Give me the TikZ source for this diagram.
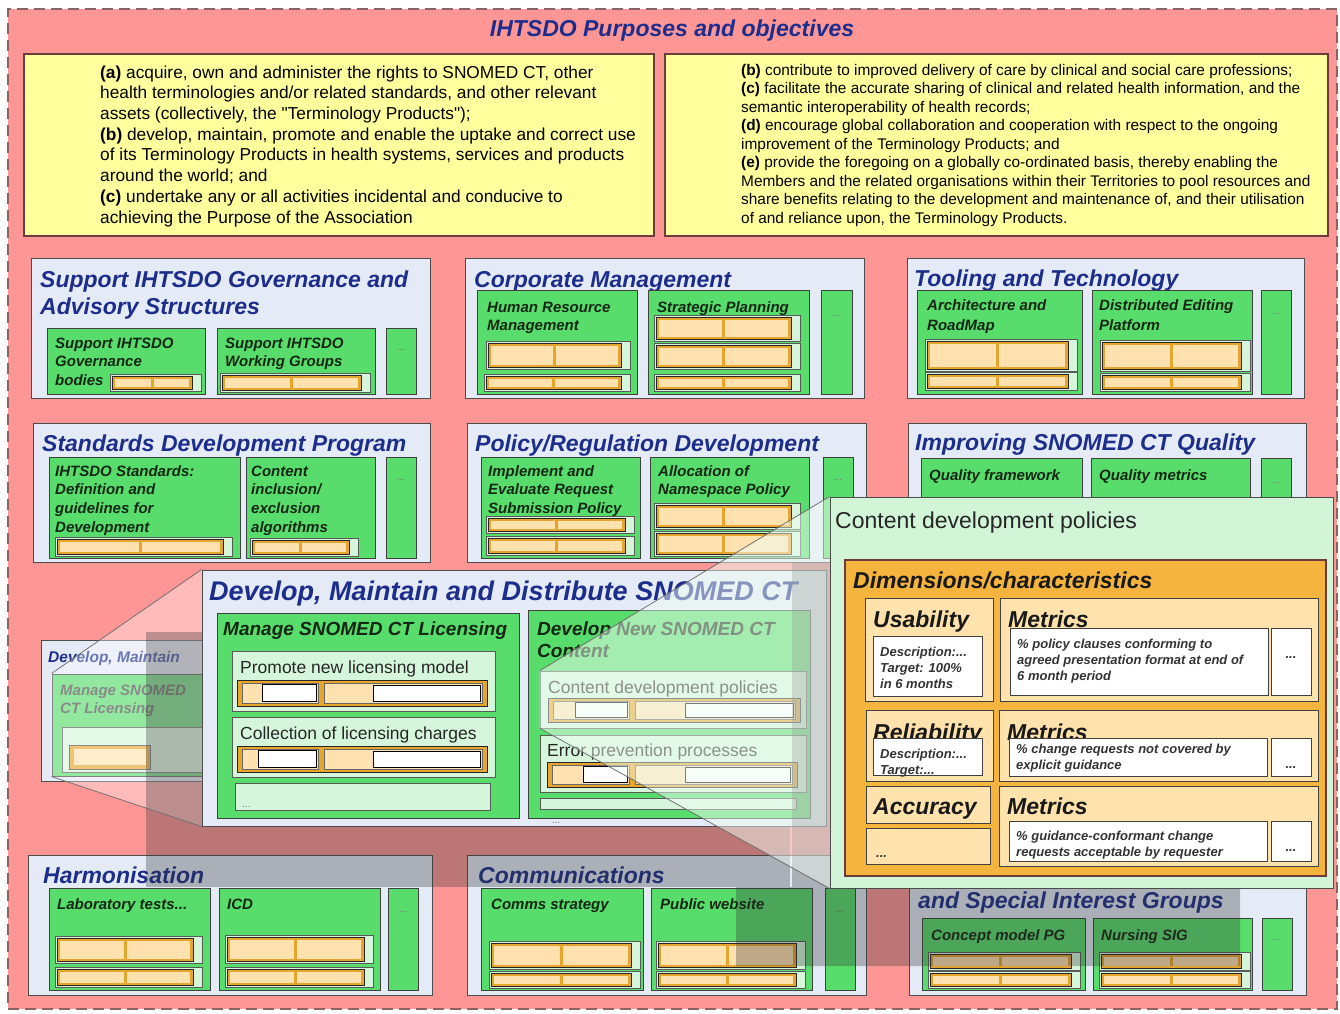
\documentclass[tikz,border=0pt]{standalone}
\usepackage{fontspec}
\setmainfont{Liberation Sans}
\usetikzlibrary{fit,calc}

\definecolor{pinkbg}{RGB}{255,150,150}
\definecolor{edgebrown}{RGB}{110,60,60}
\definecolor{yellowbg}{RGB}{255,255,158}
\definecolor{groupbg}{RGB}{229,235,246}
\definecolor{headblue}{RGB}{28,45,140}
\definecolor{greenbg}{RGB}{88,221,108}
\definecolor{panelbg}{RGB}{214,246,220}
\definecolor{bartan}{RGB}{255,226,176}
\definecolor{barorange}{RGB}{230,165,45}
\definecolor{overlaybg}{RGB}{210,245,215}
\definecolor{dimorange}{RGB}{245,180,62}
\definecolor{celltan}{RGB}{255,226,172}
\definecolor{labelink}{RGB}{20,38,20}
\definecolor{conewash}{RGB}{240,252,242}

% straight double quote, taken as a glyph
\newcommand\dq{\XeTeXglyph\XeTeXcharglyph"22\relax}
% tan bar with an orange rim: x1 y1 x2 y2
\newcommand\tanbar[4]{%
  \draw[fill=barorange, draw=black!85, line width=1pt] (#1,#2) rectangle (#3,#4);
  \fill[bartan] (#1+3,#2+2.5) rectangle ({(#1+#3)/2-1.5},#4-2.5);
  \fill[bartan] ({(#1+#3)/2+1.5},#2+2.5) rectangle (#3-3,#4-2.5);
}
% light panel holding one bar
\newcommand\barpanel[4]{%
  \draw[panel] (#1,#2) rectangle (#3,#4);
  \tanbar{#1+2}{#2+2}{#3-9}{#4-2}%
}
% licence bar: x1 y1 x2 y2, split, start of the two white fills
\newcommand\licbar[7]{%
  \draw[fill=barorange, draw=black!85, line width=1pt] (#1,#2) rectangle (#3,#4);
  \draw[fill=bartan, draw=black!60, line width=.6pt] (#1+5,#2+3) rectangle (#5-3,#4-3);
  \draw[fill=bartan, draw=black!60, line width=.6pt] (#5+3,#2+3) rectangle (#3-5,#4-3);
  \draw[fill=white, draw=black, line width=1pt] (#6,#2+4) rectangle (#5-5,#4-5);
  \draw[fill=white, draw=black, line width=1pt] (#7,#2+5) rectangle (#3-7,#4-5);
}

\begin{document}
\begin{tikzpicture}[x=1pt, y=-1pt]
  \tikzstyle{groupbox}=[fill=groupbg, draw=black!70, line width=1pt, inner sep=0pt]
  \tikzstyle{taskbox}=[fill=greenbg, draw=black!75, line width=1pt, inner sep=0pt]
  \tikzstyle{panel}=[fill=panelbg, draw=black!65, line width=.6pt]
  \tikzstyle{panelbox}=[panel, inner sep=0pt]
  \tikzstyle{notebox}=[fill=yellowbg, draw=edgebrown, line width=1.2pt, inner sep=0pt]
  \tikzstyle{cellbox}=[fill=celltan, draw=black!75, line width=1pt, inner sep=0pt]
  \tikzstyle{whitebox}=[fill=white, draw=black!75, line width=1pt, inner sep=0pt]
  \tikzstyle{shadowfill}=[fill=black!80, opacity=.32]
  \tikzstyle{coneline}=[draw=black!55, line width=.8pt]
  % multi-line texts sit on the baseline of their last line
  \tikzstyle{grouptitle}=[anchor=base west, inner sep=0pt, align=left, text=headblue, font=\fontsize{23}{27}\selectfont\bfseries\itshape]
  \tikzstyle{tasklabel}=[anchor=base west, inner sep=0pt, align=left, text=labelink, font=\fontsize{15}{18.7}\selectfont\bfseries\itshape]
  \tikzstyle{dotmark}=[anchor=base, inner sep=0pt, text=black!55, font=\fontsize{10}{12}\selectfont]
  \tikzstyle{plain}=[anchor=base west, inner sep=0pt, align=left, text=black!85, font=\fontsize{17.5}{21}\selectfont]
  \tikzstyle{celltitle}=[anchor=base west, inner sep=0pt, text=black!90, font=\fontsize{23}{27}\selectfont\bfseries\itshape]
  \tikzstyle{smallnote}=[anchor=base west, inner sep=0pt, align=left, text=black!80, font=\fontsize{13}{16.3}\selectfont\bfseries\itshape]

  \useasboundingbox (0,0) rectangle (1340,1013);
  \node[fill=pinkbg, draw=edgebrown!80, dash pattern=on 11pt off 6pt, line width=1.6pt, inner sep=0pt, fit={(8,9) (1337,1009)}] (purposes) {};
  \node[anchor=base, inner sep=0pt, text=headblue, font=\fontsize{23}{27}\selectfont\bfseries\itshape] (purposes-t) at (672,36) {IHTSDO Purposes and objectives};

  % purposes
  \node[notebox, fit={(24,54) (654,236)}] (aims) {};
  \node[anchor=base west, inner sep=0pt, align=left, font=\fontsize{17.3}{20.7}\selectfont] (aims-t) at (100,223) {\textbf{(a)} acquire, own and administer the rights to SNOMED CT, other\\health terminologies and/or related standards, and other relevant\\assets (collectively, the \dq Terminology Products\dq);\\\textbf{(b)} develop, maintain, promote and enable the uptake and correct use\\of its Terminology Products in health systems, services and products\\around the world; and\\\textbf{(c)} undertake any or all activities incidental and conducive to\\achieving the Purpose of the Association};
  \node[notebox, fit={(665,54) (1328,236)}] (objects) {};
  \node[anchor=base west, inner sep=0pt, align=left, font=\fontsize{15.4}{18.5}\selectfont] (objects-t) at (741,223) {\textbf{(b)} contribute to improved delivery of care by clinical and social care professions;\\\textbf{(c)} facilitate the accurate sharing of clinical and related health information, and the\\semantic interoperability of health records;\\\textbf{(d)} encourage global collaboration and cooperation with respect to the ongoing\\improvement of the Terminology Products; and\\\textbf{(e)} provide the foregoing on a globally co-ordinated basis, thereby enabling the\\Members and the related organisations within their Territories to pool resources and\\share benefits relating to the development and maintenance of, and their utilisation\\of and reliance upon, the Terminology Products.};

  % row 1
  \node[groupbox, fit={(31,258) (430,398)}] (governance) {};
  \node[grouptitle] (governance-t) at (40,314) {Support IHTSDO Governance and\\Advisory Structures};
  \node[taskbox, fit={(47,328) (205,394)}] (govbodies) {};
  \node[tasklabel] (govbodies-t) at (55,385.4) {Support IHTSDO\\Governance\\bodies};
  \barpanel{110}{374}{201}{391}
  \node[taskbox, fit={(217,328) (375,394)}] (workgroups) {};
  \node[tasklabel] (workgroups-t) at (225,366.7) {Support IHTSDO\\Working Groups};
  \barpanel{220}{373}{370}{392}
  \node[taskbox, fit={(386,328) (416,394)}] (govmore) {};
  \node[dotmark] (govmore-t) at (401,350) {...};

  \node[groupbox, fit={(465,258) (864,398)}] (corporate) {};
  \node[grouptitle] (corporate-t) at (474,287) {Corporate Management};
  \node[taskbox, fit={(477,290) (637,394)}] (hr) {};
  \node[tasklabel] (hr-t) at (487,330.7) {Human Resource\\Management};
  \barpanel{486}{341}{630}{369}
  \barpanel{484}{374}{630}{391}
  \node[taskbox, fit={(648,290) (809,394)}] (planning) {};
  \node[tasklabel] (planning-t) at (657,312) {Strategic Planning};
  \barpanel{654}{315}{800}{341}
  \barpanel{654}{343}{800}{369}
  \barpanel{654}{374}{800}{391}
  \node[taskbox, fit={(821,290) (852,394)}] (corpmore) {};
  \node[dotmark] (corpmore-t) at (836,316) {...};

  \node[groupbox, fit={(907,258) (1304,398)}] (tooling) {};
  \node[grouptitle] (tooling-t) at (914,286) {Tooling and Technology};
  \node[taskbox, fit={(917,290) (1082,394)}] (roadmap) {};
  \node[tasklabel, font=\fontsize{15}{20.5}\selectfont\bfseries\itshape] (roadmap-t) at (927,330.5) {Architecture and\\RoadMap};
  \barpanel{925}{339}{1077}{371}
  \barpanel{925}{372}{1077}{390}
  \node[taskbox, fit={(1092,290) (1252,394)}] (editing) {};
  \node[tasklabel, font=\fontsize{15}{20.5}\selectfont\bfseries\itshape] (editing-t) at (1099,330.5) {Distributed Editing\\Platform};
  \barpanel{1100}{340}{1250}{371}
  \barpanel{1100}{373}{1250}{391}
  \node[taskbox, fit={(1261,290) (1291,394)}] (toolmore) {};
  \node[dotmark] (toolmore-t) at (1276,314) {...};

  % row 2
  \node[groupbox, fit={(33,423) (430,562)}] (standards) {};
  \node[grouptitle] (standards-t) at (42,451) {Standards Development Program};
  \node[taskbox, fit={(49,457) (240,558)}] (stdguide) {};
  \node[tasklabel] (stdguide-t) at (55,532.1) {IHTSDO Standards:\\Definition and\\guidelines for\\Development};
  \barpanel{55}{537}{232}{556}
  \node[taskbox, fit={(246,457) (375,558)}] (inclusion) {};
  \node[tasklabel] (inclusion-t) at (251,532.1) {Content\\inclusion/\\exclusion\\algorithms};
  \barpanel{250}{538}{358}{556}
  \node[taskbox, fit={(386,457) (416,558)}] (stdmore) {};
  \node[dotmark] (stdmore-t) at (401,480) {...};

  \node[groupbox, fit={(467,423) (866,562)}] (policy) {};
  \node[grouptitle] (policy-t) at (475,451) {Policy/Regulation Development};
  \node[taskbox, fit={(481,457) (640,558)}] (submission) {};
  \node[tasklabel] (submission-t) at (488,513.4) {Implement and\\Evaluate Request\\Submission Policy};
  \barpanel{486}{516}{634}{533}
  \barpanel{486}{536}{634}{555}
  \node[taskbox, fit={(650,457) (809,558)}] (namespace) {};
  \node[tasklabel] (namespace-t) at (658,494.7) {Allocation of\\Namespace Policy};
  \barpanel{654}{503}{800}{529}
  \barpanel{654}{531}{800}{556}
  \node[taskbox, fit={(823,457) (853,558)}] (polmore) {};
  \node[dotmark] (polmore-t) at (838,480) {...};

  \node[groupbox, fit={(908,423) (1306,562)}] (quality) {};
  \node[grouptitle] (quality-t) at (915,450) {Improving SNOMED CT Quality};
  \node[taskbox, fit={(921,458) (1082,558)}] (qframe) {};
  \node[tasklabel] (qframe-t) at (929,480) {Quality framework};
  \node[taskbox, fit={(1091,458) (1250,558)}] (qmetrics) {};
  \node[tasklabel] (qmetrics-t) at (1099,480) {Quality metrics};
  \node[taskbox, fit={(1261,458) (1291,558)}] (qmore) {};
  \node[dotmark] (qmore-t) at (1276,483) {...};

  % row 4
  \node[groupbox, fit={(28,855) (432,995)}] (harmon) {};
  \node[grouptitle] (harmon-t) at (43,883) {Harmonisation};
  \node[taskbox, fit={(49,888) (210,990)}] (labtests) {};
  \node[tasklabel] (labtests-t) at (57,909) {Laboratory tests...};
  \barpanel{55}{936}{202}{963}
  \barpanel{55}{967}{202}{987}
  \node[taskbox, fit={(219,888) (380,990)}] (icd) {};
  \node[tasklabel] (icd-t) at (227,909) {ICD};
  \barpanel{225}{935}{373}{963}
  \barpanel{225}{967}{373}{987}
  \node[taskbox, fit={(388,888) (418,990)}] (harmmore) {};
  \node[dotmark] (harmmore-t) at (403,912) {...};

  \node[groupbox, fit={(467,855) (866,995)}] (comms) {};
  \node[grouptitle] (comms-t) at (478,883) {Communications};
  \node[taskbox, fit={(481,888) (643,990)}] (commsplan) {};
  \node[tasklabel] (commsplan-t) at (491,909) {Comms strategy};
  \barpanel{489}{941}{640}{969}
  \barpanel{489}{971}{640}{988}
  \node[taskbox, fit={(651,888) (812,990)}] (website) {};
  \node[tasklabel] (website-t) at (660,909) {Public website};
  \barpanel{656}{941}{805}{969}
  \barpanel{656}{971}{805}{988}
  \node[taskbox, fit={(825,888) (855,990)}] (commsmore) {};
  \node[dotmark] (commsmore-t) at (840,912) {...};

  \node[groupbox, fit={(909,855) (1306,995)}] (interest) {};
  \node[grouptitle] (interest-t) at (918,908) {and Special Interest Groups};
  \node[taskbox, fit={(922,918) (1085,990)}] (conceptpg) {};
  \node[tasklabel] (conceptpg-t) at (931,940) {Concept model PG};
  \barpanel{928}{952}{1080}{970}
  \barpanel{928}{971}{1080}{988}
  \node[taskbox, fit={(1093,918) (1252,990)}] (nursing) {};
  \node[tasklabel] (nursing-t) at (1101,940) {Nursing SIG};
  \barpanel{1099}{952}{1250}{970}
  \barpanel{1099}{971}{1250}{988}
  \node[taskbox, fit={(1262,918) (1292,990)}] (sigmore) {};
  \node[dotmark] (sigmore-t) at (1277,940) {...};

  % the small source box
  \node[groupbox, fit={(41,640) (205,781)}] (minidev) {};
  \node[grouptitle, font=\fontsize{15.5}{18}\selectfont\bfseries\itshape] (minidev-t) at (48,662) {Develop, Maintain};
  \node[taskbox, fit={(52,674) (205,776)}] (minilicence) {};
  \node[tasklabel, text=black!70] (minilicence-t) at (60,713.7) {Manage SNOMED\\CT Licensing};
  \draw[panel] (62,727) rectangle (205,772);
  \draw[fill=barorange, draw=black!70] (69,745) rectangle (150,769);
  \fill[bartan] (74,749) rectangle (146,765);

  % zoom cone to the big box
  \coordinate (develop-nw) at (202,570);
  \coordinate (develop-sw) at (202,826);
  \fill[white, opacity=.35] (minilicence.north west) -- (develop-nw) -- (develop-sw) -- (minilicence.south west) -- cycle;
  \fill[shadowfill] (146,632) rectangle (790,887);

  % big box
  \node[groupbox, fit={(develop-nw) (826,826)}] (develop) {};
  \node[grouptitle, font=\fontsize{27}{31}\selectfont\bfseries\itshape] (develop-t) at (209,600) {Develop, Maintain and Distribute SNOMED CT};
  \node[taskbox, fit={(217,613) (519,818)}] (licensing) {};
  \node[tasklabel, font=\fontsize{19}{22}\selectfont\bfseries\itshape] (licensing-t) at (223,635) {Manage SNOMED CT Licensing};
  \node[panelbox, fit={(232,651) (495,711)}] (newmodel) {};
  \node[plain] (newmodel-t) at (240,673) {Promote new licensing model};
  \licbar{237}{680}{487}{706}{321}{262}{373}
  \node[panelbox, fit={(232,717) (495,777)}] (charges) {};
  \node[plain] (charges-t) at (240,739) {Collection of licensing charges};
  \licbar{237}{746}{487}{772}{321}{258}{373}
  \node[panelbox, fit={(235,783) (490,810)}] (licmore) {};
  \node[dotmark, anchor=base west] (licmore-t) at (242,807) {...};

  \node[taskbox, fit={(528,610) (810,818)}] (newcontent) {};
  \node[tasklabel, font=\fontsize{19}{22}\selectfont\bfseries\itshape] (newcontent-t) at (537,657) {Develop New SNOMED CT\\Content};
  \node[panelbox, fit={(540,671) (806,728)}] (policies-src) {};
  \node[plain] (policies-src-t) at (548,693) {Content development policies};
  \licbar{548}{698}{800}{722}{632}{575}{685}
  \node[panelbox, fit={(540,735) (806,792)}] (errors) {};
  \node[plain] (errors-t) at (547,756) {Error prevention processes};
  \licbar{547}{762}{797}{787}{632}{583}{685}
  \node[panelbox, fit={(540,798) (796,809)}] (contentmore) {};
  \node[dotmark] (contentmore-t) at (556,823) {...};
  \draw[coneline] (minilicence.north west) -- (develop.north west);
  \draw[coneline] (minilicence.south west) -- (develop.south west);

  % shadow of the policy view
  \fill[shadowfill] (792,562) -- (830,562) -- (830,887) -- (1240,887) -- (1240,966) -- (736,966) -- (736,887) -- (792,887) -- cycle;

  % zoom cone to the policy view
  \coordinate (cdp-nw) at (830,497);
  \coordinate (cdp-sw) at (830,888);
  \fill[conewash, opacity=.5] (policies-src.north west) -- (cdp-nw) -- (cdp-sw) -- (policies-src.south west) -- cycle;

  % content development policies view
  \node[fill=overlaybg, draw=black!70, line width=1pt, inner sep=0pt, fit={(cdp-nw) (1333,888)}] (cdp) {};
  \draw[coneline] (policies-src.north west) -- (cdp.north west);
  \draw[coneline] (policies-src.south west) -- (cdp.south west);
  \node[plain, font=\fontsize{23}{27}\selectfont] (cdp-t) at (835,528) {Content development policies};
  \node[fill=dimorange, draw=edgebrown, line width=1.2pt, inner sep=0pt, fit={(845,560) (1326,876)}] (dims) {};
  \node[celltitle] (dims-t) at (853,588) {Dimensions/characteristics};

  \node[cellbox, fit={(865,598) (993,701)}] (usability) {};
  \node[celltitle] (usability-t) at (873,627) {Usability};
  \node[whitebox, fit={(873,636) (982,696)}] (usability-d) {};
  \node[smallnote] (usability-d-t) at (880,688.6) {Description:...\\Target: 100\%\\in 6 months};
  \node[cellbox, fit={(1000,598) (1318,701)}] (usemetrics) {};
  \node[celltitle] (usemetrics-t) at (1008,627) {Metrics};
  \node[whitebox, fit={(1010,628) (1268,695)}] (usemetrics-a) {};
  \node[smallnote] (usemetrics-a-t) at (1017,680.6) {\% policy clauses conforming to\\agreed presentation format at end of\\6 month period};
  \node[whitebox, fit={(1271,628) (1311,695)}] (usemetrics-b) {};
  \node[smallnote, anchor=base] (usemetrics-b-t) at (1291,658) {...};

  \node[cellbox, fit={(866,710) (993,781)}] (reliability) {};
  \node[celltitle] (reliability-t) at (873,740) {Reliability};
  \node[whitebox, fit={(873,738) (982,775)}] (reliability-d) {};
  \node[smallnote] (reliability-d-t) at (880,774.3) {Description:...\\Target:...};
  \node[cellbox, fit={(999,710) (1318,781)}] (relmetrics) {};
  \node[celltitle] (relmetrics-t) at (1007,740) {Metrics};
  \node[whitebox, fit={(1009,738) (1267,776)}] (relmetrics-a) {};
  \node[smallnote] (relmetrics-a-t) at (1016,769.3) {\% change requests not covered by\\explicit guidance};
  \node[whitebox, fit={(1271,738) (1311,776)}] (relmetrics-b) {};
  \node[smallnote, anchor=base] (relmetrics-b-t) at (1291,768) {...};

  \node[cellbox, fit={(866,786) (990,823)}] (accuracy) {};
  \node[celltitle] (accuracy-t) at (873,814) {Accuracy};
  \node[cellbox, fit={(866,828) (990,864)}] (accuracy-d) {};
  \node[smallnote] (accuracy-d-t) at (876,857) {...};
  \node[cellbox, fit={(999,786) (1318,866)}] (accmetrics) {};
  \node[celltitle] (accmetrics-t) at (1007,814) {Metrics};
  \node[whitebox, fit={(1009,821) (1267,861)}] (accmetrics-a) {};
  \node[smallnote] (accmetrics-a-t) at (1016,856.3) {\% guidance-conformant change\\requests acceptable by requester};
  \node[whitebox, fit={(1271,821) (1311,861)}] (accmetrics-b) {};
  \node[smallnote, anchor=base] (accmetrics-b-t) at (1291,851) {...};
\end{tikzpicture}
\end{document}
